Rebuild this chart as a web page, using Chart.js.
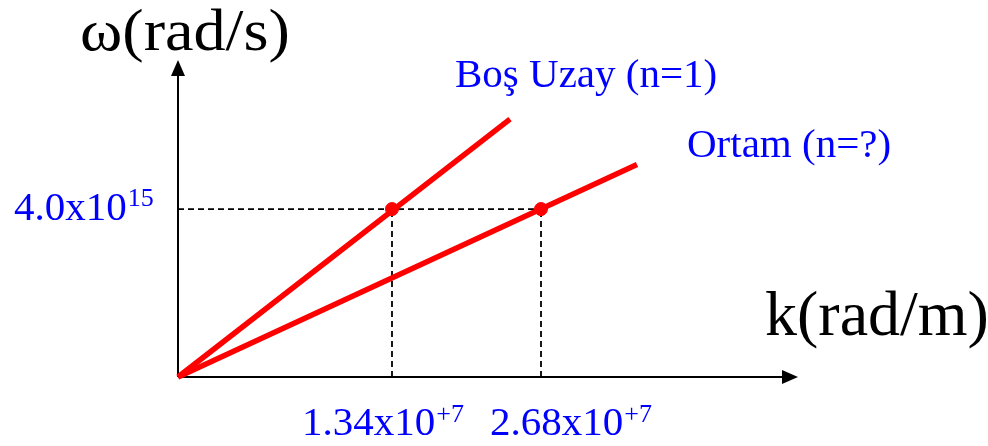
<!DOCTYPE html>
<html>
<head>
<meta charset="utf-8">
<script src="https://cdn.jsdelivr.net/npm/chart.js@4"></script>
<style>
    html, body { margin: 0; padding: 0; background: #fff; }
    #wrap { width: 988px; height: 446px; position: relative; }
</style>
</head>
<body>
<div id="wrap"><canvas id="dispersionChart"></canvas></div>
<script>
// Schematic k positions (the drawing is not to scale) and omega level
const kMarks = [2.14, 3.63];
const kTickBase = ['1.34x10', '2.68x10'];
const kTickExp = ['+7', '+7'];
const omegaMark = 4.0;
const omegaTickBase = '4.0x10';
const omegaTickExp = '15';

// Lines from the origin
const kFree = [0, 3.32];
const wFree = [0, 6.14];
const kMedium = [0, 4.59];
const wMedium = [0, 5.06];
const seriesNames = ['Boş Uzay (n=1)', 'Ortam (n=?)'];

const RED = '#ff0000';
const BLUE = '#0000ff';
const SERIF = "'Liberation Serif', 'Times New Roman', serif";

function toPoints(xs, ys) {
    return xs.map((x, i) => ({ x: x, y: ys[i] }));
}

// Dashed guide lines: horizontal at omega, verticals under each mark
const guideSets = [
    { data: [{ x: 0, y: omegaMark }, { x: kMarks[1], y: omegaMark }] },
    { data: [{ x: kMarks[0], y: 0 }, { x: kMarks[0], y: omegaMark }] },
    { data: [{ x: kMarks[1], y: 0 }, { x: kMarks[1], y: omegaMark }] }
].map(d => Object.assign(d, {
    type: 'line',
    borderColor: '#000',
    borderWidth: 1.8,
    borderDash: [6, 4],
    pointRadius: 0,
    clip: false
}));

// Axes with arrows, drawn under the data
const axesPlugin = {
    id: 'axesPlugin',
    beforeDatasetsDraw(chart) {
        const { ctx, chartArea: a } = chart;
        ctx.save();
        ctx.strokeStyle = '#000';
        ctx.fillStyle = '#000';
        ctx.lineWidth = 2;
        ctx.beginPath();
        ctx.moveTo(a.left, a.bottom);
        ctx.lineTo(a.right - 12, a.bottom);
        ctx.moveTo(a.left, a.bottom);
        ctx.lineTo(a.left, a.top + 12);
        ctx.stroke();
        // x arrow
        ctx.beginPath();
        ctx.moveTo(a.right, a.bottom);
        ctx.lineTo(a.right - 16, a.bottom - 7);
        ctx.lineTo(a.right - 16, a.bottom + 7);
        ctx.closePath();
        ctx.fill();
        // y arrow
        ctx.beginPath();
        ctx.moveTo(a.left, a.top);
        ctx.lineTo(a.left - 7, a.top + 16);
        ctx.lineTo(a.left + 7, a.top + 16);
        ctx.closePath();
        ctx.fill();
        ctx.restore();
    },
    afterDraw(chart) {
        const { ctx, scales: { x, y } } = chart;
        ctx.save();
        ctx.textBaseline = 'alphabetic';

        // axis titles (the omega title is a bit wider in the original)
        ctx.fillStyle = '#000';
        ctx.font = '60px ' + SERIF;
        ctx.textAlign = 'left';
        ctx.save();
        ctx.translate(80, 50);
        ctx.scale(1.07, 1);
        ctx.fillText('ω(rad/s)', 0, 0);
        ctx.restore();
        ctx.font = '64px ' + SERIF;
        ctx.fillText('k(rad/m)', 765, 335);

        // series names
        ctx.fillStyle = BLUE;
        ctx.font = '41px ' + SERIF;
        ctx.fillText(seriesNames[0], 455, 87);
        ctx.fillText(seriesNames[1], 687, 157);

        // omega tick
        const yPx = y.getPixelForValue(omegaMark);
        ctx.font = '41px ' + SERIF;
        ctx.fillText(omegaTickBase, 14, yPx + 11);
        const wBase = ctx.measureText(omegaTickBase).width;
        ctx.font = '26px ' + SERIF;
        ctx.fillText(omegaTickExp, 14 + wBase + 1, yPx - 3);

        // k ticks
        const offsets = [-90, -51];
        kMarks.forEach((k, i) => {
            const px = x.getPixelForValue(k) + offsets[i];
            ctx.font = '41px ' + SERIF;
            ctx.fillText(kTickBase[i], px, 435);
            const w = ctx.measureText(kTickBase[i]).width;
            ctx.font = '26px ' + SERIF;
            ctx.fillText(kTickExp[i], px + w + 1, 422);
        });
        ctx.restore();
    }
};

const ctx = document.getElementById('dispersionChart').getContext('2d');
const chart = new Chart(ctx, {
    type: 'scatter',
    data: {
        datasets: [
            {
                label: 'marks',
                data: kMarks.map(k => ({ x: k, y: omegaMark })),
                backgroundColor: RED,
                borderColor: RED,
                pointRadius: 6.5,
                clip: false
            },
            {
                label: seriesNames[0],
                type: 'line',
                data: toPoints(kFree, wFree),
                borderColor: RED,
                borderWidth: 5.5,
                pointRadius: 0,
                clip: false
            },
            {
                label: seriesNames[1],
                type: 'line',
                data: toPoints(kMedium, wMedium),
                borderColor: RED,
                borderWidth: 5.5,
                pointRadius: 0,
                clip: false
            },
            ...guideSets
        ]
    },
    options: {
        responsive: true,
        maintainAspectRatio: false,
        animation: false,
        layout: {
            padding: { left: 178, right: 190, top: 60, bottom: 69 }
        },
        plugins: {
            legend: { display: false },
            tooltip: { enabled: false }
        },
        scales: {
            x: { type: 'linear', min: 0, max: 6.2, display: false },
            y: { type: 'linear', min: 0, max: 7.55, display: false }
        }
    },
    plugins: [axesPlugin]
});
</script>
</body>
</html>
